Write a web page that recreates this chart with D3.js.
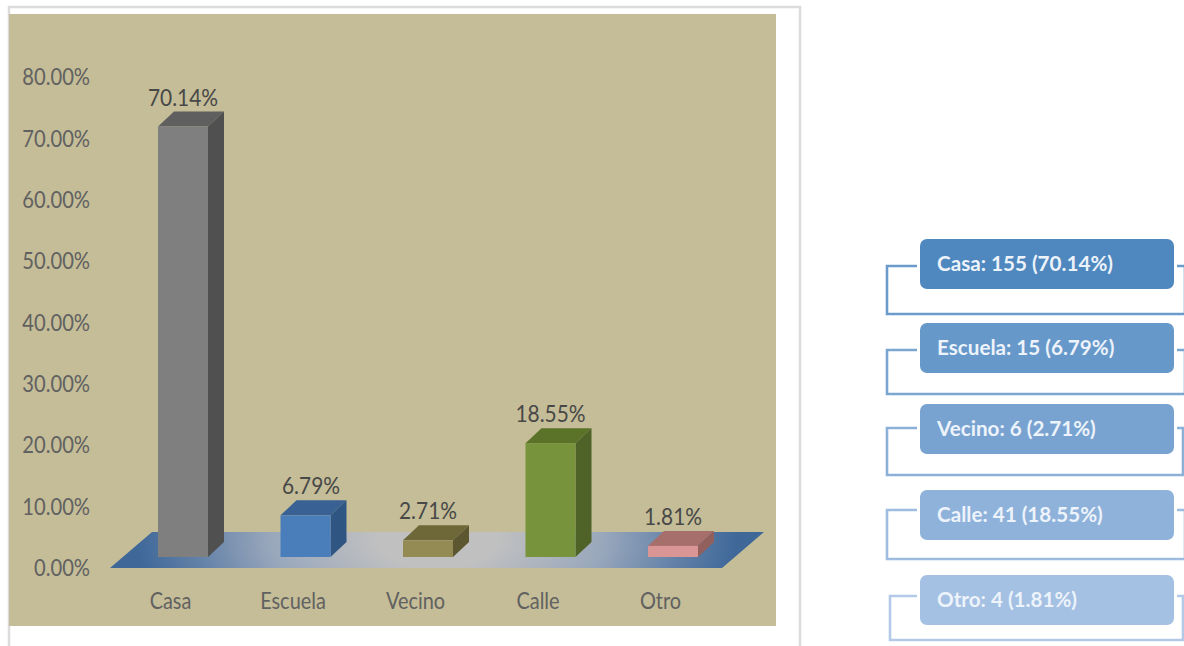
<!DOCTYPE html>
<html>
<head>
<meta charset="utf-8">
<script src="https://cdn.jsdelivr.net/npm/d3@7/dist/d3.min.js"></script>
<style>
  html, body { margin: 0; padding: 0; background: #fff; overflow: hidden; }
  text { font-family: Lato, "Open Sans", sans-serif; }
  .axis path, .axis line { display: none; }
  .axis text { font-size: 24px; fill: #616161; }
  .value { font-size: 24px; fill: #484848; text-anchor: middle; dominant-baseline: central; }
  .entry { font-size: 21.5px; font-weight: 700; fill: #edf3fa; dominant-baseline: central; }
</style>
</head>
<body>
<svg id="chart" width="1184" height="646"></svg>
<script>
// Lugar de los hechos: share and count per category
const categories = ["Casa", "Escuela", "Vecino", "Calle", "Otro"];
const percents = [70.14, 6.79, 2.71, 18.55, 1.81];
const counts = [155, 15, 6, 41, 4];
const axisTicks = [0, 10, 20, 30, 40, 50, 60, 70, 80];

// Face colours of each column
const frontColors = ["#7f7f7f", "#4a7ebb", "#948a54", "#77933c", "#d99694"];
const topColors = ["#5f5f5f", "#3a6193", "#6e6839", "#5b7229", "#a66f6c"];
const sideColors = ["#505050", "#2f5582", "#5c5730", "#4f6228", "#935f5d"];

// Legend box fills, darkest first
const boxColors = ["#4f87bf", "#6698ca", "#78a3d1", "#8fb2da", "#a4c0e3"];
const bracketColors = ["#6b9bcb", "#7ba6d2", "#8cb1d9", "#9dbce0", "#b2cae8"];

// Layout
const svg = d3.select("#chart");
const panel = { x: 9, y: 14, w: 767, h: 612 };
const axisY0 = 568;        // zero line of the value axis
const baseY = 557;         // front foot of the columns
const depth = { dx: 16, dy: 15 };
const barW = 50;
const floorRect = { left: 110, right: 722, front: 568, back: 532, skew: 42 };

const y = d3.scaleLinear().domain([0, 80]).range([axisY0, axisY0 - 491]);
const x = d3.scalePoint().domain(categories).range([183, 673]);
const labelX = d3.scalePoint().domain(categories).range([170, 660]);

// Squeeze a text selection horizontally, keeping its glyphs real text
function condense(selection, factor) {
  selection.each(function () {
    const w = this.getComputedTextLength();
    d3.select(this)
      .attr("textLength", w * factor)
      .attr("lengthAdjust", "spacingAndGlyphs");
  });
}

// Frame around the chart
svg.append("path")
  .attr("d", "M9,650V7H800V650")
  .attr("fill", "#fff").attr("stroke", "#dcdcdc").attr("stroke-width", 2.5);

svg.append("rect")
  .attr("x", panel.x).attr("y", panel.y)
  .attr("width", panel.w).attr("height", panel.h)
  .attr("fill", "#c4bd97");

// Floor with its blue-to-grey glow
const defs = svg.append("defs");
const glow = defs.append("radialGradient")
  .attr("id", "floorGlow")
  .attr("gradientUnits", "userSpaceOnUse")
  .attr("cx", 437).attr("cy", 0).attr("r", 300)
  .attr("gradientTransform", "translate(0,538) scale(1,0.5)");
glow.append("stop").attr("offset", "0.2").attr("stop-color", "#c0c0c0");
glow.append("stop").attr("offset", "0.55").attr("stop-color", "#9aa8bc");
glow.append("stop").attr("offset", "0.8").attr("stop-color", "#6482a8");
glow.append("stop").attr("offset", "1").attr("stop-color", "#3f6899");

const f = floorRect;
svg.append("path")
  .attr("d", d3.line()([
    [f.left, f.front], [f.right, f.front],
    [f.right + f.skew, f.back], [f.left + f.skew, f.back]
  ]) + "Z")
  .attr("fill", "url(#floorGlow)");

// Value axis
svg.append("g").attr("class", "axis")
  .attr("transform", "translate(90,0)")
  .call(d3.axisLeft(y).tickValues(axisTicks).tickSize(0).tickPadding(0)
    .tickFormat(d => d3.format(".2f")(d) + "%"))
  .selectAll("text").call(condense, 0.84);

// Category axis
svg.append("g").attr("class", "axis")
  .attr("transform", "translate(0,592)")
  .call(d3.axisBottom(labelX).tickSize(0).tickPadding(0))
  .selectAll("text").call(condense, 0.83);

// Columns: front, top and side faces
const bars = svg.append("g").selectAll("g")
  .data(categories.map((name, i) => ({ name, pct: percents[i], i })))
  .join("g");

const h = d => y(0) - y(d.pct);
const left = d => x(d.name) - barW / 2;

bars.append("path")
  .attr("fill", d => topColors[d.i])
  .attr("d", d => {
    const t = baseY - h(d);
    return d3.line()([[left(d), t], [left(d) + barW, t],
      [left(d) + barW + depth.dx, t - depth.dy], [left(d) + depth.dx, t - depth.dy]]) + "Z";
  });

bars.append("path")
  .attr("fill", d => sideColors[d.i])
  .attr("d", d => {
    const t = baseY - h(d), r = left(d) + barW;
    return d3.line()([[r, t], [r + depth.dx, t - depth.dy],
      [r + depth.dx, baseY - depth.dy], [r, baseY]]) + "Z";
  });

bars.append("rect")
  .attr("fill", d => frontColors[d.i])
  .attr("x", left).attr("y", d => baseY - h(d))
  .attr("width", barW).attr("height", h);

// Value labels above each column
bars.append("text")
  .attr("class", "value")
  .attr("x", d => x(d.name) + (d.name === "Escuela" ? 5.5 : 0))
  .attr("y", d => baseY - h(d) - depth.dy - 15.5)
  .text(d => d3.format(".2f")(d.pct) + "%")
  .call(condense, 0.87);

// Legend rows on the right
const rows = [
  { top: 239, stem: 266, bottom: 314, outer: 887, edge: 1185 },
  { top: 323, stem: 350, bottom: 394, outer: 887, edge: 1185 },
  { top: 404, stem: 428, bottom: 475, outer: 887, edge: 1183 },
  { top: 490, stem: 510, bottom: 559, outer: 887, edge: 1185 },
  { top: 575, stem: 596, bottom: 640, outer: 890, edge: 1183 }
];
const boxX = 920, boxW = 254, boxH = 50;

const legend = svg.append("g").selectAll("g")
  .data(rows.map((r, i) => ({ r, i })))
  .join("g");

legend.append("path")
  .attr("fill", "none")
  .attr("stroke", d => bracketColors[d.i])
  .attr("stroke-width", 2.6)
  .attr("d", d => `M${boxX - 3},${d.r.stem}H${d.r.outer}V${d.r.bottom}H${d.r.edge}V${d.r.stem}H${boxX + boxW + 3}`);

legend.append("rect")
  .attr("x", boxX).attr("y", d => d.r.top)
  .attr("width", boxW).attr("height", boxH).attr("rx", 7)
  .attr("fill", d => boxColors[d.i]);

legend.append("text")
  .attr("class", "entry")
  .attr("x", boxX + 17).attr("y", d => d.r.top + 24)
  .text(d => `${categories[d.i]}: ${counts[d.i]} (${d3.format(".2f")(percents[d.i])}%)`)
  .call(condense, 0.96);
</script>
</body>
</html>
